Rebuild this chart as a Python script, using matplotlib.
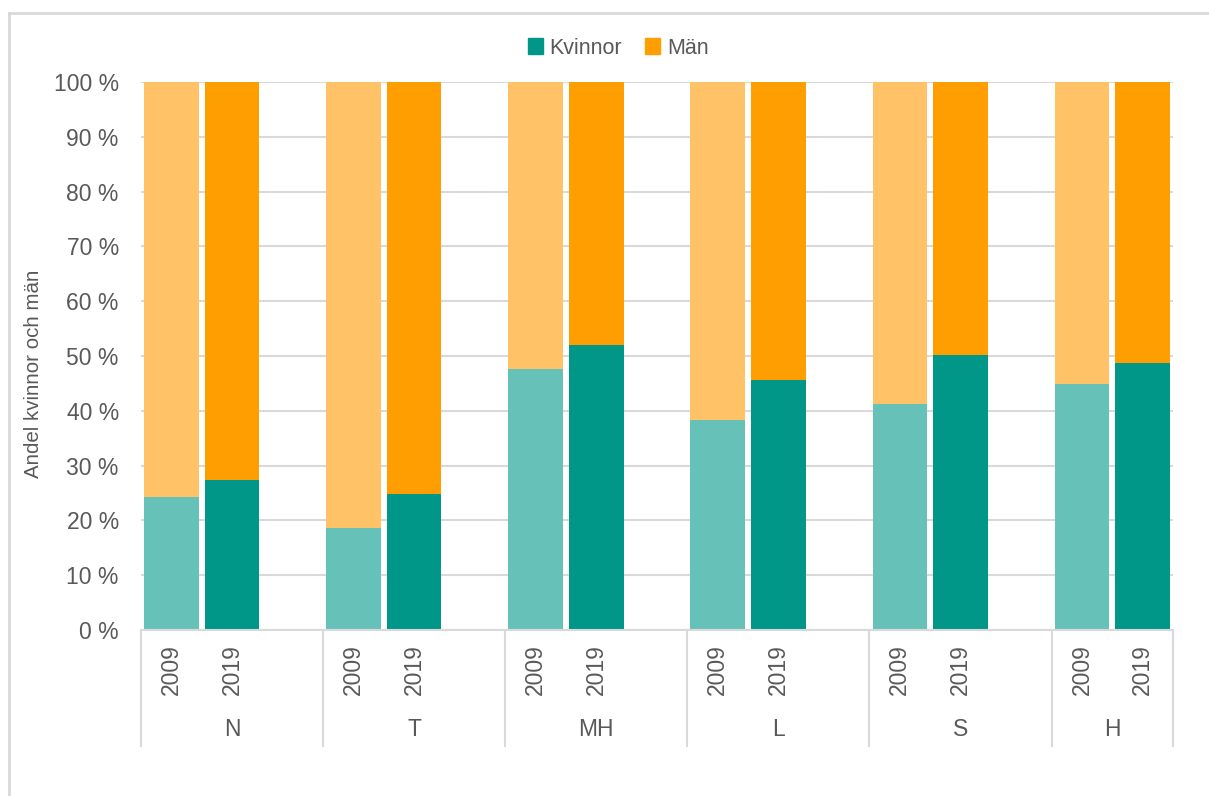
import numpy as np
import matplotlib.pyplot as plt
from matplotlib.patches import Patch
from matplotlib.lines import Line2D

plt.rcParams['font.family'] = ['Liberation Sans', 'DejaVu Sans']

# Data: share of women (%) per area, 2009 and 2019
groups = ["N", "T", "MH", "L", "S", "H"]
years = ["2009", "2019"]
women_2009 = [24.3, 18.7, 47.6, 38.4, 41.2, 44.8]
women_2019 = [27.4, 24.8, 52.0, 45.7, 50.2, 48.7]

teal_dark = "#009688"
teal_light = "#66c1b8"
orange_dark = "#ff9e00"
orange_light = "#ffc266"
grey_txt = "#595959"
grid_col = "#d9d9d9"
fs = 16.5

fig = plt.figure(figsize=(12.09, 7.96), dpi=100)
ax = fig.add_axes([141 / 1209, 1 - 630 / 796, (1173 - 141) / 1209, (630 - 82) / 796])

# slot positions: 3 slots per group (2009, 2019, blank), last group without blank
pos_2009 = np.arange(len(groups)) * 3
pos_2019 = pos_2009 + 1
w = 0.9

w09 = np.array(women_2009)
w19 = np.array(women_2019)
ax.bar(pos_2009, w09, width=w, color=teal_light, zorder=2)
ax.bar(pos_2009, 100 - w09, bottom=w09, width=w, color=orange_light, zorder=2)
ax.bar(pos_2019, w19, width=w, color=teal_dark, zorder=2)
ax.bar(pos_2019, 100 - w19, bottom=w19, width=w, color=orange_dark, zorder=2)

ax.set_xlim(-0.5, pos_2019[-1] + 0.5)
ax.set_ylim(0, 100)
ax.set_yticks(np.arange(0, 101, 10))
ax.set_yticklabels([f"{v} %" for v in range(0, 101, 10)], fontsize=fs, color=grey_txt)
ax.yaxis.grid(True, color=grid_col, lw=1.5, zorder=0)
ax.set_axisbelow(True)
for s in ["top", "right", "left"]:
    ax.spines[s].set_visible(False)
ax.spines["bottom"].set_color(grid_col)
ax.spines["bottom"].set_linewidth(1.5)
ax.tick_params(axis="y", length=0, pad=16)
ax.tick_params(axis="x", length=0)
ax.set_ylabel("Andel kvinnor och män", fontsize=14.8, color=grey_txt)
ax.yaxis.set_label_coords(-0.095, 0.467)

# year tick labels
xt = np.concatenate([pos_2009, pos_2019])
ax.set_xticks(xt)
ax.set_xticklabels([years[0]] * len(groups) + [years[1]] * len(groups),
                   rotation=90, fontsize=fs, color=grey_txt)
ax.tick_params(axis="x", pad=10)

# group labels and separators
bounds = [-0.5] + [p + 2.5 for p in pos_2009[:-1]] + [pos_2019[-1] + 0.5]
trans = ax.get_xaxis_transform()
for i, g in enumerate(groups):
    ax.text((bounds[i] + bounds[i + 1]) / 2, -0.182, g, transform=trans,
            ha="center", va="center", fontsize=fs, color=grey_txt)
for b in bounds:
    ax.add_line(Line2D([b, b], [0, -0.212], transform=trans, color=grid_col,
                       lw=1.5, clip_on=False))

# legend
handles = [Patch(color=teal_dark, label="Kvinnor"), Patch(color=orange_dark, label="Män")]
fig.legend(handles=handles, loc="center", bbox_to_anchor=(618 / 1209, 1 - 48 / 796),
           ncol=2, frameon=False, fontsize=15.5, handlelength=0.7, handleheight=0.7,
           handletextpad=0.3, columnspacing=1.1, labelcolor=grey_txt)

# outer frame
fig.add_artist(Line2D([9 / 1209, 1], [1 - 13 / 796] * 2, transform=fig.transFigure,
                      color=grid_col, lw=2))
fig.add_artist(Line2D([9 / 1209] * 2, [0, 1 - 13 / 796], transform=fig.transFigure,
                      color=grid_col, lw=2))

fig.savefig("out.png", dpi=100)
